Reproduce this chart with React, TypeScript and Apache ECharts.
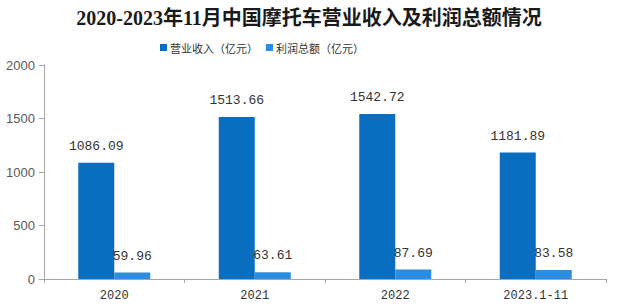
import React, { useEffect, useRef } from "react";
import * as echarts from "echarts";

const categories = ["2020", "2021", "2022", "2023.1-11"];
const revenue = [1086.09, 1513.66, 1542.72, 1181.89];
const profit = [59.96, 63.61, 87.69, 83.58];
const seriesNames = ["营业收入（亿元）", "利润总额（亿元）"];
const titleText = "2020-2023年11月中国摩托车营业收入及利润总额情况";

export default function App() {
  const ref = useRef<HTMLDivElement>(null);
  useEffect(() => {
    if (!ref.current) return;
    const chart = echarts.init(ref.current, undefined, { renderer: "svg" });
    const labelStyle = {
      show: true,
      position: "top" as const,
      distance: 10,
      fontFamily: "'Liberation Mono', 'DejaVu Sans Mono', monospace",
      fontSize: 13,
      color: "#333",
    };
    chart.setOption({
      animation: false,
      title: {
        text: titleText,
        left: "center",
        top: 3,
        textStyle: {
          fontFamily: "'Liberation Serif', 'Noto Sans CJK SC', serif",
          fontWeight: "bold",
          fontSize: 20,
          color: "#1a1a1a",
        },
      },
      legend: {
        top: 37,
        left: 155,
        itemWidth: 7,
        itemHeight: 7,
        itemGap: 8,
        icon: "rect",
        textStyle: {
          fontFamily: "'Noto Sans CJK SC', sans-serif",
          fontSize: 11,
          color: "#333",
          padding: [0, 0, 0, -2],
        },
        data: seriesNames,
      },
      grid: { left: 44, right: 12, top: 65, bottom: 29 },
      xAxis: {
        type: "category",
        data: categories,
        axisLine: { lineStyle: { color: "#a6a6a6" } },
        axisTick: { show: true, length: 4, lineStyle: { color: "#a6a6a6" } },
        axisLabel: {
          margin: 11,
          fontFamily: "'Liberation Mono', 'DejaVu Sans Mono', monospace",
          fontSize: 12,
          color: "#333",
        },
      },
      yAxis: {
        type: "value",
        min: 0,
        max: 2000,
        interval: 500,
        axisLine: { show: true, lineStyle: { color: "#a6a6a6" } },
        axisTick: { show: true, length: 5, lineStyle: { color: "#a6a6a6" } },
        splitLine: { show: false },
        axisLabel: {
          margin: 9,
          fontFamily: "'Liberation Sans', sans-serif",
          fontSize: 13,
          color: "#595959",
          formatter: (v: number) => String(v),
        },
      },
      series: [
        {
          name: seriesNames[0],
          type: "bar",
          data: revenue,
          barWidth: 36,
          barGap: "0%",
          itemStyle: { color: "#0A6EC0" },
          label: labelStyle,
        },
        {
          name: seriesNames[1],
          type: "bar",
          data: profit,
          barWidth: 36,
          itemStyle: { color: "#2C8CE2" },
          label: labelStyle,
        },
      ],
    });
    return () => chart.dispose();
  }, []);
  return (
    <div
      ref={ref}
      style={{ position: "fixed", left: 0, top: 0, width: 618, height: 308, background: "#fff" }}
    />
  );
}
